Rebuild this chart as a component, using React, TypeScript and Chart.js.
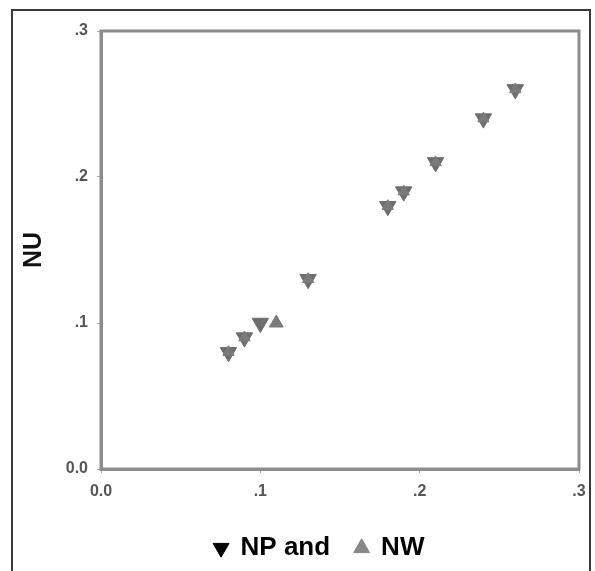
import React, { useEffect, useRef } from "react";
import { Chart, registerables } from "chart.js";

Chart.register(...registerables);

const npX = [0.08, 0.09, 0.10, 0.13, 0.18, 0.19, 0.21, 0.24, 0.26];
const npY = [0.08, 0.09, 0.10, 0.13, 0.18, 0.19, 0.21, 0.24, 0.26];
const nwX = [0.08, 0.09, 0.11, 0.13, 0.18, 0.19, 0.21, 0.24, 0.26];
const nwY = [0.08, 0.09, 0.10, 0.13, 0.18, 0.19, 0.21, 0.24, 0.26];
const tickValues = [0, 0.1, 0.2, 0.3];
const legendLabels = ["NP and", "NW"];
const yTitle = "NU";

const FONT = "'Liberation Sans', Arial, sans-serif";
const fmt = (v: number) => {
  const r = Math.round(v * 10);
  return r === 0 ? "0.0" : "." + r;
};

const framePlugin = {
  id: "plotFrame",
  beforeDatasetsDraw(chart: any) {
    const { ctx, chartArea: a } = chart;
    ctx.save();
    ctx.strokeStyle = "#8c8c8c";
    ctx.lineWidth = 3;
    ctx.strokeRect(a.left, a.top, a.right - a.left, a.bottom - a.top);
    ctx.restore();
  },
};

const overlapsNP = (i: number) =>
  npX.some((x, j) => Math.abs(x - nwX[i]) < 1e-9 && Math.abs(npY[j] - nwY[i]) < 1e-9);

export default function App() {
  const ref = useRef<HTMLCanvasElement>(null);
  useEffect(() => {
    if (!ref.current) return;
    const chart = new Chart(ref.current, {
      type: "scatter",
      data: {
        datasets: [
          {
            label: "NW",
            data: nwX.map((x, i) => ({ x, y: nwY[i] })),
            pointStyle: "triangle",
            pointRadius: (c: any) => (overlapsNP(c.dataIndex) ? 6.5 : 8),
            backgroundColor: "#7a7a7a",
            borderColor: "#7a7a7a",
            borderWidth: 1,
          },
          {
            label: "NP",
            data: npX.map((x, i) => ({ x, y: npY[i] })),
            pointStyle: "triangle",
            rotation: 180,
            pointRadius: 9.5,
            backgroundColor: "#6e6e6e",
            borderColor: "#6e6e6e",
            borderWidth: 1,
          },
        ],
      },
      options: {
        animation: false,
        responsive: false,
        maintainAspectRatio: false,
        layout: { padding: { left: 60, right: 16, top: 31, bottom: 0 } },
        plugins: {
          tooltip: { enabled: false },
          legend: {
            position: "bottom",
            labels: {
              usePointStyle: true,
              boxWidth: 13,
              boxHeight: 13,
              padding: 25,
              color: "#111",
              font: { family: FONT, size: 26, weight: "bold" },
              generateLabels: () => [
                {
                  text: legendLabels[0],
                  pointStyle: "triangle",
                  rotation: 180,
                  fillStyle: "#000",
                  strokeStyle: "#000",
                  lineWidth: 1,
                  hidden: false,
                  datasetIndex: 1,
                },
                {
                  text: legendLabels[1],
                  pointStyle: "triangle",
                  rotation: 0,
                  fillStyle: "#888",
                  strokeStyle: "#888",
                  lineWidth: 1,
                  hidden: false,
                  datasetIndex: 0,
                },
              ],
            },
          },
        },
        scales: {
          x: {
            type: "linear",
            min: 0,
            max: 0.3,
            afterBuildTicks: (s: any) => {
              s.ticks = tickValues.map((v) => ({ value: v }));
            },
            afterFit: (s: any) => {
              s.height = 41;
            },
            grid: { display: true, drawOnChartArea: false, drawTicks: true, tickLength: 4, color: "#aaa" },
            border: { display: true, color: "#8c8c8c", width: 3 },
            ticks: {
              padding: 9,
              color: "#555",
              font: { family: FONT, size: 16, weight: "bold" },
              callback: (v: any) => fmt(Number(v)),
            },
          },
          y: {
            type: "linear",
            min: 0,
            max: 0.3,
            afterBuildTicks: (s: any) => {
              s.ticks = tickValues.map((v) => ({ value: v }));
            },
            afterFit: (s: any) => {
              s.width = 41;
            },
            grid: { display: true, drawOnChartArea: false, drawTicks: true, tickLength: 4, color: "#aaa" },
            border: { display: true, color: "#8c8c8c", width: 3 },
            title: {
              display: true,
              text: yTitle,
              color: "#111",
              padding: { top: -41, bottom: 0 },
              font: { family: FONT, size: 25, weight: "bold" },
            },
            ticks: {
              padding: 9,
              color: "#555",
              font: { family: FONT, size: 16, weight: "bold" },
              callback: (v: any) => fmt(Number(v)),
            },
          },
        },
      },
      plugins: [framePlugin],
    } as any);
    return () => chart.destroy();
  }, []);

  return (
    <div style={{ position: "fixed", left: 0, top: 0, width: 595, height: 571, overflow: "hidden", background: "#fff" }}>
      <div
        style={{
          position: "absolute",
          left: 11,
          top: 9,
          width: 580,
          height: 600,
          border: "2px solid #3a3a3a",
          boxSizing: "border-box",
        }}
      />
      <canvas ref={ref} width={595} height={571} style={{ position: "absolute", left: 0, top: 0, width: 595, height: 571 }} />
    </div>
  );
}
